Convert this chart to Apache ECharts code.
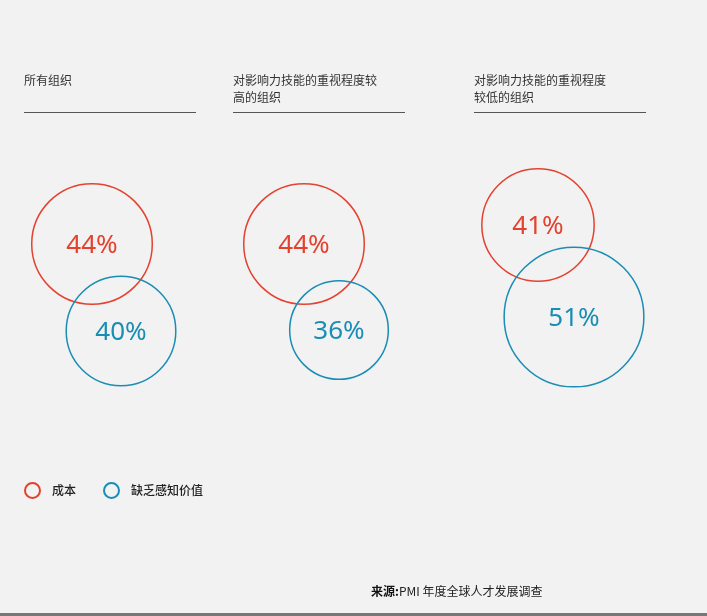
<!DOCTYPE html>
<html><head><meta charset="utf-8">
<script src="https://cdn.jsdelivr.net/npm/echarts@6/dist/echarts.min.js"></script>
<style>html,body{margin:0;padding:0;background:#f2f2f2;}#c{width:707px;height:616px;}</style>
</head><body><div id="c"></div>
<script>
// ---- data ----
const groups = ['所有组织', '对影响力技能的重视程度较\n高的组织', '对影响力技能的重视程度\n较低的组织'];
const seriesNames = ['成本', '缺乏感知价值'];
const costValues = [44, 44, 41];
const perceivedValues = [40, 36, 51];
const sourceText = 'PMI 年度全球人才发展调查';

// ---- layout (hidden 0..707 x 0..616 coordinate space) ----
const groupLeft = [24, 233, 474];
const groupWidth = 172;
const costCenter = [[92, 244], [304, 244], [538, 225]];
const perceivedCenter = [[121, 331], [339, 330], [574, 317]];
const pxPerPoint = 2.74; // diameter per percentage point
const RED = '#e5412f', BLUE = '#1a8db5';
const FONT = '"Noto Sans", "Noto Sans CJK SC", sans-serif';

function pts(centers, vals){ return vals.map((v,i)=>[centers[i][0], centers[i][1], v]); }

const chart = echarts.init(document.getElementById('c'), null, {renderer:'canvas'});

const titles = groups.map((g,i)=>({
  text: g, left: groupLeft[i], top: 72, padding:0,
  textStyle:{fontFamily:'"Noto Sans CJK SC", sans-serif', fontSize:12, fontWeight:'normal', color:'#333', lineHeight:17}
}));

const graphics = groupLeft.map(x=>({
  type:'line', shape:{x1:x, y1:112.5, x2:x+groupWidth, y2:112.5},
  style:{stroke:'#555', lineWidth:1}, silent:true
}));
graphics.push({
  type:'line', shape:{x1:0, y1:614.5, x2:707, y2:614.5}, style:{stroke:'#777', lineWidth:3}, silent:true
});
graphics.push({
  type:'text', left:371, top:585,
  style:{
    text:'{b|来源:}{n|' + sourceText + '}',
    rich:{
      b:{fontFamily:'"Noto Sans CJK SC", sans-serif', fontSize:12, fontWeight:'bold', fill:'#111'},
      n:{fontFamily:'"Noto Sans CJK SC", sans-serif', fontSize:12, fill:'#222'}
    }
  }
});

function circleSeries(name, data, color){
  return {
    name, type:'scatter', data,
    symbol:'circle',
    symbolSize: v => v[2]*pxPerPoint,
    itemStyle:{color:'rgba(0,0,0,0)', borderColor:color, borderWidth:1.5, opacity:1},
    label:{show:true, position:'inside', formatter: p => p.value[2] + '%',
      color:color, fontSize:26, fontFamily:FONT, fontWeight:'normal', offset:[0,2]},
    emphasis:{disabled:true},
    silent:true
  };
}

chart.setOption({
  backgroundColor:'#f2f2f2',
  animation:false,
  title: titles,
  grid:{left:0, right:0, top:0, bottom:0},
  xAxis:{type:'value', min:0, max:707, show:false},
  yAxis:{type:'value', min:0, max:616, inverse:true, show:false},
  legend:{
    data: seriesNames.map(n=>({name:n, icon:'circle'})),
    left:24, top:482, padding:0, itemWidth:15, itemHeight:15, itemGap:27,
    textStyle:{fontFamily:'"Noto Sans CJK SC", sans-serif', fontSize:12, color:'#222', fontWeight:500, padding:[0,0,0,7]},
    selectedMode:false
  },
  graphic: graphics,
  series:[
    circleSeries(seriesNames[0], pts(costCenter, costValues), RED),
    circleSeries(seriesNames[1], pts(perceivedCenter, perceivedValues), BLUE)
  ]
});
</script></body></html>
